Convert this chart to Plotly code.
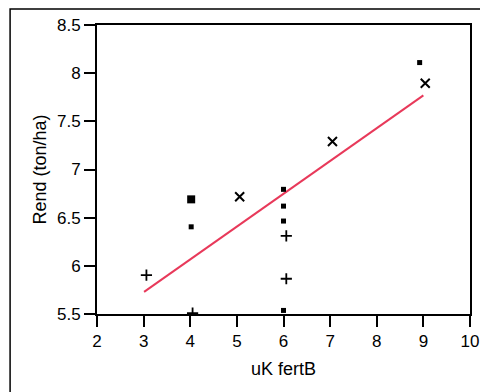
import plotly.graph_objects as go

# Data
sq_x = [8.92, 4.02, 6.0, 6.0, 6.0, 6.0]
sq_y = [8.11, 6.405, 6.794, 6.62, 6.465, 5.537]
big_sq_x = [4.02]
big_sq_y = [6.69]
plus_x = [3.06, 4.05, 6.06, 6.06]
plus_y = [5.904, 5.51, 6.31, 5.866]
cross_x = [9.04, 7.05, 5.06]
cross_y = [7.895, 7.29, 6.717]
fit_x = [3.01, 9.0]
fit_y = [5.73, 7.77]

x_ticks = [2, 3, 4, 5, 6, 7, 8, 9, 10]
y_ticks = [5.5, 6, 6.5, 7, 7.5, 8, 8.5]

fig = go.Figure()
fig.add_trace(go.Scatter(x=fit_x, y=fit_y, mode="lines",
                         line=dict(color="#E8395A", width=2), hoverinfo="skip"))
fig.add_trace(go.Scatter(x=sq_x, y=sq_y, mode="markers",
                         marker=dict(symbol="square", size=5, color="black")))
fig.add_trace(go.Scatter(x=big_sq_x, y=big_sq_y, mode="markers",
                         marker=dict(symbol="square", size=8, color="black")))
fig.add_trace(go.Scatter(x=plus_x, y=plus_y, mode="markers",
                         marker=dict(symbol="cross-thin", size=8,
                                     line=dict(color="black", width=1.8))))
fig.add_trace(go.Scatter(x=cross_x, y=cross_y, mode="markers",
                         marker=dict(symbol="x-thin", size=9,
                                     line=dict(color="black", width=2))))

font = "Liberation Sans, Arial, sans-serif"
fig.update_layout(
    width=480, height=392,
    margin=dict(l=97, r=10, t=25, b=78),
    paper_bgcolor="white", plot_bgcolor="white",
    showlegend=False,
    font=dict(family=font, size=17, color="black"),
    xaxis=dict(range=[2, 10], tickvals=x_ticks, ticktext=[str(v) for v in x_ticks],
               showgrid=False, zeroline=False, showline=True, linecolor="black",
               linewidth=2, mirror=True, ticks="outside", ticklen=11, tickwidth=1.5,
               tickcolor="black", automargin=False,
               title=dict(text="uK fertB", standoff=12, font=dict(size=18)),
               tickfont=dict(size=17)),
    yaxis=dict(range=[5.5, 8.5], tickvals=y_ticks, ticktext=[str(v) for v in y_ticks],
               showgrid=False, zeroline=False, showline=True, linecolor="black",
               linewidth=2, mirror=True, ticks="outside", ticklen=11, tickwidth=1.5,
               tickcolor="black", automargin=False,
               title=dict(text="Rend (ton/ha)", standoff=6, font=dict(size=18)),
               tickfont=dict(size=17)),
    shapes=[dict(type="rect", xref="paper", yref="paper",
                 x0=-0.233, x1=1.1, y0=-0.3, y1=1.055,
                 line=dict(color="black", width=1.5), layer="below")],
)

fig.write_html(
    "out.html",
    config={"displayModeBar": False},
    post_script="document.body.style.margin='0';document.body.style.overflow='hidden';",
)
